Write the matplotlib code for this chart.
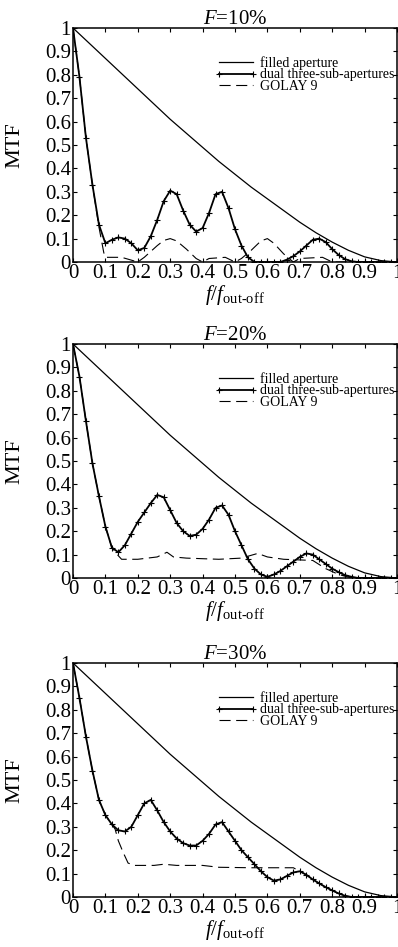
import numpy as np
import matplotlib
matplotlib.use("Agg")
import matplotlib.pyplot as plt

plt.rcParams['font.family'] = ['Liberation Serif', 'DejaVu Serif']
plt.rcParams['mathtext.fontset'] = 'custom'
plt.rcParams['mathtext.rm'] = 'Liberation Serif'
plt.rcParams['mathtext.it'] = 'Liberation Serif:italic'
plt.rcParams['mathtext.bf'] = 'Liberation Serif:bold'

# ---- data ----
titles = ['10%', '20%', '30%']
labels = ['filled aperture', 'dual three-sub-apertures', 'GOLAY 9']
tick_vals = [0, 0.1, 0.2, 0.3, 0.4, 0.5, 0.6, 0.7, 0.8, 0.9, 1]
tick_labels = ['0', '0.1', '0.2', '0.3', '0.4', '0.5', '0.6', '0.7', '0.8', '0.9', '1']

# filled aperture (same in all three panels)
filled_x = [0, 0.05, 0.1, 0.15, 0.2, 0.25, 0.3, 0.35, 0.4, 0.45, 0.5,
            0.55, 0.6, 0.65, 0.7, 0.75, 0.8, 0.85, 0.9, 0.95, 1.0]
filled_y = [1.0, 0.935, 0.87, 0.805, 0.74, 0.675, 0.61, 0.55, 0.49, 0.43, 0.375,
            0.32, 0.27, 0.22, 0.17, 0.125, 0.085, 0.05, 0.022, 0.006, 0.0]

# dual three-sub-apertures, sampled every 0.02
dual_x = np.linspace(0, 1, 51)
dual_10 = [1.0, 0.79, 0.53, 0.33, 0.16, 0.08, 0.095, 0.105, 0.10, 0.08,
           0.05, 0.06, 0.11, 0.18, 0.26, 0.305, 0.29, 0.22, 0.16, 0.13,
           0.145, 0.21, 0.29, 0.30, 0.23, 0.14, 0.07, 0.02, 0.0, 0.0,
           0.0, 0.0, 0.0, 0.01, 0.025, 0.045, 0.07, 0.095, 0.10, 0.085,
           0.055, 0.03, 0.012, 0.003, 0.0, 0.0, 0.0, 0.0, 0.0, 0.0, 0.0]
dual_20 = [1.0, 0.86, 0.67, 0.49, 0.35, 0.22, 0.13, 0.11, 0.14, 0.19,
           0.24, 0.28, 0.32, 0.355, 0.345, 0.29, 0.235, 0.20, 0.18, 0.185,
           0.21, 0.25, 0.30, 0.31, 0.27, 0.20, 0.14, 0.08, 0.04, 0.015,
           0.005, 0.015, 0.03, 0.05, 0.07, 0.09, 0.105, 0.10, 0.08, 0.06,
           0.04, 0.025, 0.012, 0.005, 0.0, 0.0, 0.0, 0.0, 0.0, 0.0, 0.0]
dual_30 = [1.0, 0.85, 0.685, 0.54, 0.415, 0.35, 0.31, 0.285, 0.28, 0.30,
           0.35, 0.40, 0.415, 0.37, 0.32, 0.28, 0.25, 0.23, 0.22, 0.22,
           0.24, 0.27, 0.31, 0.32, 0.28, 0.24, 0.20, 0.17, 0.14, 0.11,
           0.085, 0.07, 0.075, 0.09, 0.105, 0.11, 0.095, 0.075, 0.058, 0.042,
           0.028, 0.015, 0.005, 0.0, 0.0, 0.0, 0.0, 0.0, 0.0, 0.0, 0.0]

# GOLAY 9
golay_x_10 = [0, 0.02, 0.04, 0.06, 0.08, 0.095, 0.10, 0.15, 0.20, 0.22, 0.26, 0.28,
              0.30, 0.32, 0.35, 0.38, 0.40, 0.42, 0.47, 0.50, 0.52, 0.55, 0.58,
              0.60, 0.62, 0.65, 0.68, 0.70, 0.77, 0.80, 1.0]
golay_y_10 = [1.0, 0.79, 0.53, 0.33, 0.15, 0.04, 0.02, 0.02, 0.0, 0.02, 0.07, 0.092,
              0.10, 0.09, 0.055, 0.015, 0.0, 0.015, 0.02, 0.0, 0.015, 0.05, 0.09,
              0.10, 0.08, 0.035, 0.0, 0.015, 0.02, 0.0, 0.0]
golay_x_20 = [0, 0.02, 0.04, 0.06, 0.08, 0.10, 0.12, 0.14, 0.15, 0.20, 0.26, 0.29,
              0.31, 0.35, 0.45, 0.52, 0.57, 0.60, 0.65, 0.74, 0.78, 0.82, 0.86, 1.0]
golay_y_20 = [1.0, 0.86, 0.67, 0.49, 0.35, 0.22, 0.13, 0.095, 0.08, 0.08, 0.09, 0.11,
              0.09, 0.085, 0.08, 0.085, 0.105, 0.09, 0.08, 0.075, 0.04, 0.015, 0.0, 0.0]
golay_x_30 = [0, 0.02, 0.04, 0.06, 0.08, 0.10, 0.12, 0.13, 0.14, 0.155, 0.17, 0.19,
              0.25, 0.28, 0.32, 0.40, 0.45, 0.55, 0.68, 0.70, 0.72, 0.74, 0.76,
              0.78, 0.80, 0.82, 0.84, 0.86, 1.0]
golay_y_30 = [1.0, 0.85, 0.685, 0.54, 0.415, 0.35, 0.31, 0.29, 0.24, 0.19, 0.145, 0.135,
              0.135, 0.14, 0.135, 0.135, 0.127, 0.125, 0.125, 0.11, 0.095, 0.075, 0.058,
              0.042, 0.028, 0.015, 0.005, 0.0, 0.0]

duals = [dual_10, dual_20, dual_30]
golays = [(golay_x_10, golay_y_10), (golay_x_20, golay_y_20), (golay_x_30, golay_y_30)]


def main():
    fig = plt.figure(figsize=(3.98, 9.47), dpi=100)
    # panel placement (figure fractions)
    left, width, height = 73 / 398, 324 / 398, 234 / 947
    bottoms = [1 - 262 / 947, 1 - 578 / 947, 1 - 897 / 947]

    for i in range(3):
        ax = fig.add_axes([left, bottoms[i], width, height])

        ax.plot(filled_x, filled_y, color='black', lw=0.9, label=labels[0])
        ax.plot(dual_x, duals[i], color='black', lw=1.3, marker='+',
                markersize=4, markeredgewidth=0.8, label=labels[1])
        gx, gy = golays[i]
        ax.plot(gx, gy, color='black', lw=0.8, dashes=(10, 5), label=labels[2])

        ax.set_xlim(0, 1)
        ax.set_ylim(0, 1)
        ax.set_xticks(tick_vals)
        ax.set_xticklabels(tick_labels)
        ax.set_yticks(tick_vals)
        ax.set_yticklabels(tick_labels)
        ax.tick_params(direction='in', length=3, width=0.8, labelsize=15,
                       top=True, right=True, pad=1.5)
        for sp in ax.spines.values():
            sp.set_linewidth(1.1)

        ax.set_title('$F$=' + titles[i], fontsize=15, pad=3)
        ax.set_ylabel('MTF', fontsize=16)
        ax.yaxis.set_label_coords(-0.15, 0.5)
        ax.set_xlabel('$f$/$f_{\\mathrm{out\u2010off}}$', fontsize=15)
        ax.xaxis.set_label_coords(0.5, -0.09)

        ax.legend(loc='upper right', bbox_to_anchor=(0.995, 0.885), frameon=False,
                  fontsize=10, numpoints=2, handlelength=3.0, handletextpad=0.2,
                  labelspacing=-0.12, borderpad=0.1, borderaxespad=0)

    fig.savefig('out.png', dpi=100)


if __name__ == "__main__":
    main()
